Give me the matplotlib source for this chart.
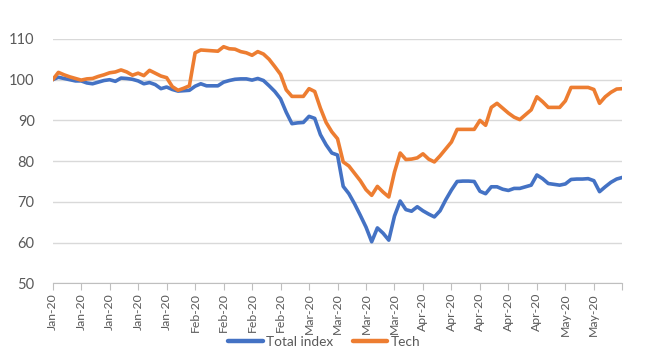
import matplotlib.pyplot as plt

# Index levels, one value per trading day (base = 100)
total_index = [
    100.0, 100.6, 100.3, 100.0, 99.7, 99.7, 99.2, 99.0, 99.4, 99.8,
    100.0, 99.6, 100.4, 100.3, 100.1, 99.7, 99.0, 99.3, 98.8, 97.8,
    98.2, 97.6, 97.2, 97.3, 97.4, 98.4, 99.0, 98.5, 98.5, 98.5,
    99.4, 99.8, 100.1, 100.2, 100.2, 99.9, 100.3, 99.8, 98.5, 97.1,
    95.3, 92.0, 89.2, 89.4, 89.5, 91.0, 90.5, 86.5, 84.0, 82.0,
    81.5, 73.8, 72.0, 69.5, 66.7, 63.8, 60.2, 63.6, 62.3, 60.6,
    66.5, 70.2, 68.1, 67.7, 68.8, 67.8, 67.0, 66.3, 67.8, 70.5,
    72.9, 75.0, 75.1, 75.1, 75.0, 72.6, 72.0, 73.7, 73.7, 73.1,
    72.8, 73.3, 73.3, 73.7, 74.1, 76.6, 75.7, 74.5, 74.3, 74.1,
    74.4, 75.5, 75.6, 75.6, 75.7, 75.2, 72.5, 73.7, 74.8, 75.6,
    76.0,
]
tech = [
    100.0, 101.8, 101.2, 100.7, 100.3, 99.9, 100.2, 100.3, 100.8, 101.2,
    101.7, 101.9, 102.4, 101.9, 101.1, 101.6, 101.0, 102.3, 101.6, 100.9,
    100.5, 98.3, 97.4, 97.9, 98.5, 106.6, 107.3, 107.2, 107.1, 107.0,
    108.1, 107.6, 107.5, 106.9, 106.6, 106.0, 106.9, 106.3, 105.0, 103.2,
    101.3, 97.5, 95.9, 95.9, 95.9, 97.8, 97.1, 93.0, 89.5, 87.2,
    85.5, 79.8, 78.8, 77.0, 75.2, 73.0, 71.6, 73.8, 72.4, 71.2,
    77.3, 82.0, 80.4, 80.5, 80.8, 81.8, 80.5, 79.8, 81.3, 83.0,
    84.7, 87.8, 87.8, 87.8, 87.8, 90.0, 88.8, 93.2, 94.2, 93.0,
    91.8, 90.8, 90.2, 91.4, 92.6, 95.8, 94.6, 93.2, 93.2, 93.2,
    94.8, 98.1, 98.1, 98.1, 98.1, 97.6, 94.2, 95.8, 96.9, 97.7,
    97.8,
]
# weekly axis labels (every 5 trading days)
week_labels = ['Jan-20'] * 5 + ['Feb-20'] * 4 + ['Mar-20'] * 4 + ['Apr-20'] * 5 + ['May-20'] * 2

plt.rcParams['font.family'] = ['Lato', 'DejaVu Sans']

fig = plt.figure(figsize=(6.49, 3.63), dpi=100)
ax = fig.add_axes([0.0812, 0.2196, 0.8777, 0.673])

days = range(len(total_index))
ax.plot(days, total_index, color='#4472C4', lw=2.6, label='Total index',
        solid_joinstyle='round', solid_capstyle='round')
ax.plot(days, tech, color='#ED7D31', lw=2.6, label='Tech',
        solid_joinstyle='round', solid_capstyle='round')

ax.set_xlim(0, len(total_index) - 1)
ax.set_ylim(50, 110)
ax.set_yticks(range(50, 111, 10))
ax.yaxis.grid(True, color='#D9D9D9', lw=1)
ax.set_axisbelow(True)

ticks = list(range(0, len(total_index), 5))
ax.set_xticks(ticks)
ax.set_xticklabels(week_labels + [''] * (len(ticks) - len(week_labels)), rotation=90)

for side in ['top', 'right', 'left']:
    ax.spines[side].set_visible(False)
ax.spines['bottom'].set_color('#BFBFBF')
ax.tick_params(axis='y', length=0, pad=13, labelsize=10.5, labelcolor='#595959')
ax.tick_params(axis='x', length=5, color='#BFBFBF', pad=2, labelsize=8.8, labelcolor='#595959')

leg = fig.legend(loc='center', bbox_to_anchor=(0.5, 0.058), ncol=2, frameon=False,
                 fontsize=9.8, labelcolor='#595959', handlelength=2.5, handletextpad=0.25,
                 columnspacing=1.5)
for line in leg.get_lines():
    line.set_linewidth(3.2)

fig.savefig('out.png', dpi=100)
